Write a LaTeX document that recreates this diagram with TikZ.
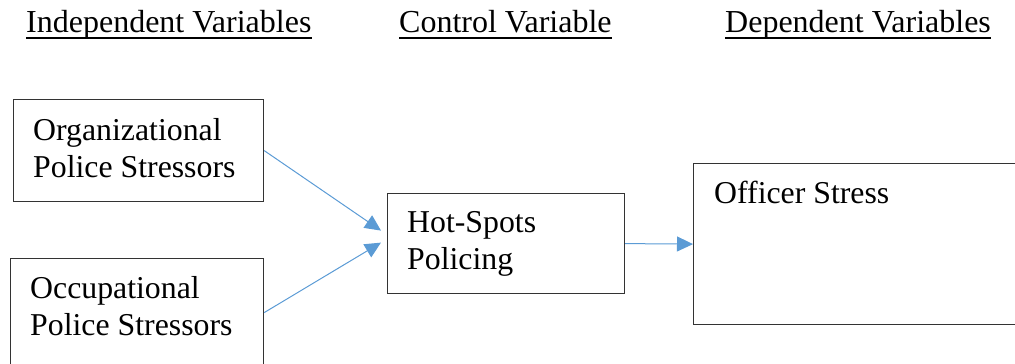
\documentclass[tikz,border=0pt]{standalone}
\usepackage{fontspec}
\setmainfont{Liberation Serif}
\usetikzlibrary{arrows.meta,calc}
\begin{document}
\begin{tikzpicture}[x=1pt,y=-1pt,
  box/.style={draw=black!80,line width=1.2pt,rectangle,inner sep=0pt,anchor=north west},
  txt/.style={inner sep=0pt,anchor=base west,align=left,font=\fontsize{31.8}{37}\selectfont},
  head/.style={inner sep=0pt,anchor=base west,font=\fontsize{32}{37}\selectfont},
  ul/.style={line width=1.8pt,black},
  conn/.style={draw=arrowblue,line width=1pt,-{Triangle[length=16pt,width=15pt]}}]
\definecolor{arrowblue}{HTML}{5B9BD5}
\useasboundingbox (0,0) rectangle (1015,364);
\clip (0,0) rectangle (1015,364);
% headers
\node[head] (h1) at (26,32) {Independent Variables};
\node[head] (h2) at (399,32) {Control Variable};
\node[head] (h3) at (725,32) {Dependent Variables};
\foreach \h in {h1,h2,h3}
  \draw[ul] ([yshift=-6pt]\h.base west) -- ([yshift=-6pt]\h.base east);
% boxes
\node[box,minimum width=250pt,minimum height=102pt] (b1) at (13,99) {};
\node[box,minimum width=253pt,minimum height=108pt] (b2) at (10,258) {};
\node[box,minimum width=237pt,minimum height=100pt] (b3) at (387,193) {};
\node[box,minimum width=340pt,minimum height=161pt] (b4) at (693,163) {};
% texts (base anchor = baseline of last line)
\node[txt] (t1) at (33,177) {Organizational\\Police Stressors};
\node[txt] (t2) at (30,335) {Occupational\\Police Stressors};
\node[txt] (t3) at (407,269) {Hot-Spots\\Policing};
\node[txt] (t4) at (714,203) {Officer Stress};
% connectors
\coordinate (e1) at ($(b3.west)+(-6,-13)$);
\coordinate (e2) at ($(b3.west)+(-6,-1)$);
\draw[conn] (b1.east) -- (e1);
\draw[conn] (b2.east) -- (e2);
\draw[conn] (b3.east) -- (b4.west);
\end{tikzpicture}
\end{document}
